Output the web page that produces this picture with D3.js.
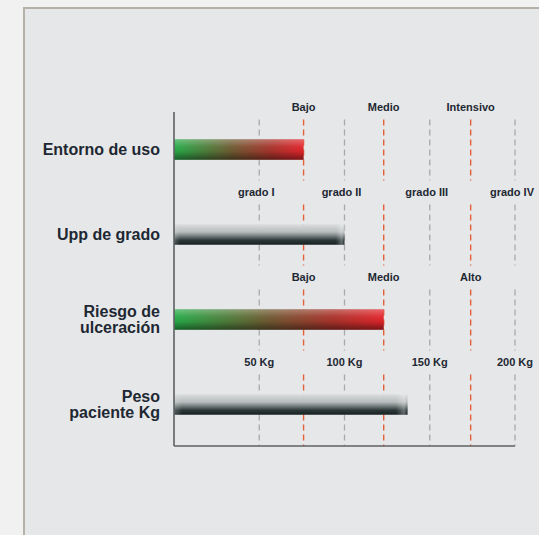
<!DOCTYPE html>
<html>
<head>
<meta charset="utf-8">
<script src="https://cdn.jsdelivr.net/npm/d3@7"></script>
<style>
  html, body { margin: 0; padding: 0; background: #f1f1f1; }
  svg { display: block; }
  text { font-family: "Liberation Sans", Arial, sans-serif; font-weight: bold; fill: #1e2833; }
</style>
</head>
<body>
<script>
// ---- data ----
const categories = ["Entorno de uso", "Upp de grado", "Riesgo de\nulceración", "Peso\npaciente Kg"];
const barValues = [76, 100, 123, 137];          // in Kg-axis units
const barStyles = ["gr", "dark", "gr", "dark"];
const grayTicks = [50, 100, 150, 200];
const redTicks = [76, 123, 174];
const rowLabels = [
  { at: redTicks,  labels: ["Bajo", "Medio", "Intensivo"] },
  { at: grayTicks, labels: ["grado I", "grado II", "grado III", "grado IV"] },
  { at: redTicks,  labels: ["Bajo", "Medio", "Alto"] },
  { at: grayTicks, labels: ["50 Kg", "100 Kg", "150 Kg", "200 Kg"] }
];

const W = 539, H = 535;
const svg = d3.select("body").append("svg").attr("width", W).attr("height", H);

// panel
svg.append("rect").attr("x", 24).attr("y", 8).attr("width", W).attr("height", H)
  .attr("fill", "#e6e7e8").attr("stroke", "#b6b0aa").attr("stroke-width", 2);

const x = d3.scaleLinear().domain([0, 200]).range([174, 515]);
const y = d3.scaleBand().domain(categories).range([107, 447]);
const axisTop = 112, axisBottom = 446;
const barH = 20.5;

const defs = svg.append("defs");
// horizontal green->red gradient
const gh = defs.append("linearGradient").attr("id", "gh").attr("x1", 0).attr("x2", 1).attr("y1", 0).attr("y2", 0);
[[0, "#27ac49"], [0.45, "#6f5a32"], [0.75, "#a8332b"], [1, "#e3252b"]].forEach(s => gh.append("stop").attr("offset", s[0]).attr("stop-color", s[1]));
// vertical shading overlay
const gv = defs.append("linearGradient").attr("id", "gv").attr("x1", 0).attr("x2", 0).attr("y1", 0).attr("y2", 1);
[[0, "#ffffff", 0.3], [0.35, "#ffffff", 0.05], [0.6, "#000000", 0.05], [1, "#000000", 0.45]].forEach(s => gv.append("stop").attr("offset", s[0]).attr("stop-color", s[1]).attr("stop-opacity", s[2]));
// dark bar vertical gradient
const gd = defs.append("linearGradient").attr("id", "gd").attr("x1", 0).attr("x2", 0).attr("y1", 0).attr("y2", 1);
[[0, "#dcdede"], [0.38, "#b6bbbb"], [0.58, "#737c7c"], [0.78, "#2c3738"], [1, "#172122"]].forEach(s => gd.append("stop").attr("offset", s[0]).attr("stop-color", s[1]));
// left fade / right highlight for dark bar
const gl = defs.append("linearGradient").attr("id", "gl").attr("x1", 0).attr("x2", 1).attr("y1", 0).attr("y2", 0);
[[0, "#e6e7e8", 0.25], [0.035, "#e6e7e8", 0.0], [0.95, "#ffffff", 0], [0.985, "#ffffff", 0.3], [1, "#ffffff", 0]].forEach(s => gl.append("stop").attr("offset", s[0]).attr("stop-color", s[1]).attr("stop-opacity", s[2]));

// label row y positions
const rowY = categories.map(c => y(c) + y.bandwidth() / 2 - 42);

// dashed lines, broken at label rows
const segs = rowY.map((ry, i) => [ry + 12, i < rowY.length - 1 ? rowY[i + 1] - 12 : axisBottom]);
const grid = svg.append("g");
grayTicks.forEach(t => segs.forEach(s => grid.append("line")
  .attr("x1", x(t)).attr("x2", x(t)).attr("y1", s[0]).attr("y2", s[1])
  .attr("stroke", "#a9a9aa").attr("stroke-width", 1.3).attr("stroke-dasharray", "6,4")));
redTicks.forEach(t => segs.forEach(s => grid.append("line")
  .attr("x1", x(t)).attr("x2", x(t)).attr("y1", s[0]).attr("y2", s[1])
  .attr("stroke", "#e2603a").attr("stroke-width", 1.4).attr("stroke-dasharray", "6,4")));

// row labels
rowLabels.forEach((r, i) => {
  svg.append("g").selectAll("text").data(r.labels).join("text")
    .attr("x", (d, j) => x(r.at[j]) + (i === 1 ? -3 : 0))
    .attr("y", rowY[i]).attr("dy", "0.35em")
    .attr("text-anchor", "middle").attr("font-size", 11)
    .text(d => d);
});

// bars
const bars = svg.append("g");
categories.forEach((c, i) => {
  const by = y(c) + y.bandwidth() / 2 - barH / 2;
  const bw = x(barValues[i]) - x(0);
  if (barStyles[i] === "gr") {
    bars.append("rect").attr("x", x(0)).attr("y", by).attr("width", bw).attr("height", barH).attr("fill", "url(#gh)");
    bars.append("rect").attr("x", x(0)).attr("y", by).attr("width", bw).attr("height", barH).attr("fill", "url(#gv)");
  } else {
    bars.append("rect").attr("x", x(0)).attr("y", by).attr("width", bw).attr("height", barH).attr("fill", "url(#gd)");
    bars.append("rect").attr("x", x(0)).attr("y", by).attr("width", bw).attr("height", barH).attr("fill", "url(#gl)");
  }
});

// axes
const ax = svg.append("g").attr("stroke", "#5e6062").attr("stroke-width", 1.6);
ax.append("line").attr("x1", x(0)).attr("x2", x(0)).attr("y1", axisTop).attr("y2", axisBottom);
ax.append("line").attr("x1", x(0)).attr("x2", x(200)).attr("y1", axisBottom).attr("y2", axisBottom);

// category labels
categories.forEach(c => {
  const lines = c.split("\n");
  const cy = y(c) + y.bandwidth() / 2;
  const t = svg.append("text").attr("x", 160).attr("text-anchor", "end").attr("font-size", 16);
  lines.forEach((l, k) => {
    const off = lines.length === 1 ? 0 : (k === 0 ? -8.5 : 7.5);
    t.append("tspan").attr("x", 160).attr("y", cy + off).attr("dy", "0.35em").text(l);
  });
});
</script>
</body>
</html>
